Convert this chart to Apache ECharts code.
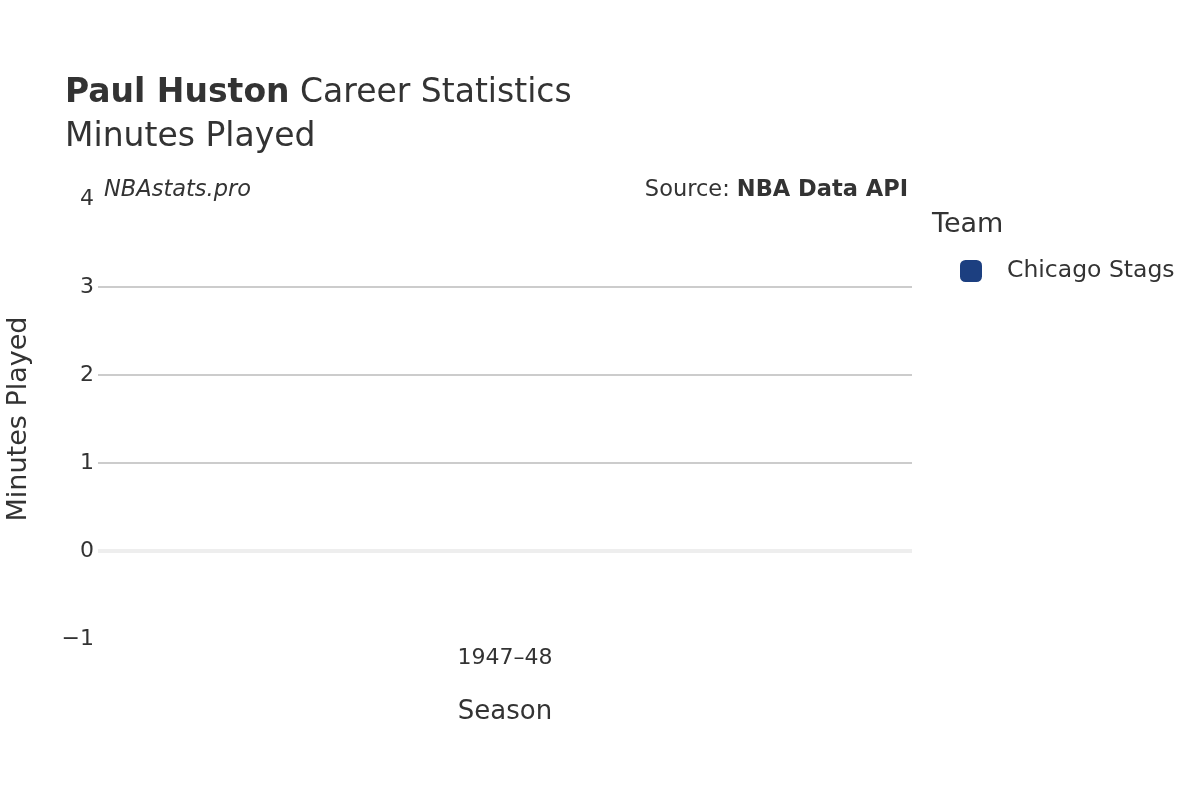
<!DOCTYPE html><html><head><meta charset="utf-8"><script src="https://cdn.jsdelivr.net/npm/echarts@6/dist/echarts.min.js"></script></head><body style="margin:0"><div id="c" style="width:1200px;height:800px"></div><script>
const seasons=['1947–48'];
const teams=['Chicago Stags'];
const minutes=[0];
const yTicks=[-1,0,1,2,3,4];
const F='DejaVu Sans';
const c=echarts.init(document.getElementById('c'));
c.setOption({
textStyle:{fontFamily:F},
animation:false,
grid:{left:98,right:288,top:199,bottom:161,containLabel:false,outerBoundsMode:'none'},
title:[{text:'{b|Paul Huston} Career Statistics\nMinutes Played',left:60,top:66,textStyle:{fontFamily:F,fontSize:33,fontWeight:'normal',color:'#333',lineHeight:44,rich:{b:{fontFamily:F,fontSize:33,fontWeight:'bold',color:'#333'}}}}],
graphic:[
{type:'text',left:104,top:179,style:{text:'NBAstats.pro',font:'italic 22.5px DejaVu Sans',fill:'#333'}},
{type:'text',right:292,top:179,style:{text:'{n|Source: }{b|NBA Data API}',rich:{n:{font:'22.5px DejaVu Sans',fill:'#333'},b:{font:'bold 22.5px DejaVu Sans',fill:'#333'}}}},
{type:'text',left:932,top:211,style:{text:'Team',font:'27px DejaVu Sans',fill:'#333'}}
],
legend:{data:teams,left:955,top:254,orient:'vertical',icon:'roundRect',itemWidth:22,itemHeight:22,itemGap:20,textStyle:{fontFamily:F,fontSize:23.5,color:'#333',padding:[0,0,0,20]}},
xAxis:{type:'category',data:seasons,axisLine:{show:false},axisTick:{show:false},axisLabel:{fontSize:22,color:'#333',margin:8},name:'Season',nameLocation:'middle',nameGap:60,nameTextStyle:{fontSize:26,color:'#333'}},
yAxis:{type:'value',min:yTicks[0],max:yTicks[yTicks.length-1],interval:1,axisLabel:{fontSize:22,color:'#333',margin:4,formatter:v=>v<0?'−'+(-v):''+v},
splitLine:{lineStyle:{color:['transparent','transparent','#bbb','#bbb','#bbb','transparent'],width:1.5}},
name:'Minutes Played',nameLocation:'middle',nameGap:66,nameTextStyle:{fontSize:27,color:'#333'}},
series:[{name:teams[0],type:'bar',data:minutes,itemStyle:{color:'#1c3f80'},
markLine:{silent:true,symbol:'none',label:{show:false},lineStyle:{color:'#eee',width:4,type:'solid'},data:[{yAxis:0}]}}]
});
</script></body></html>
